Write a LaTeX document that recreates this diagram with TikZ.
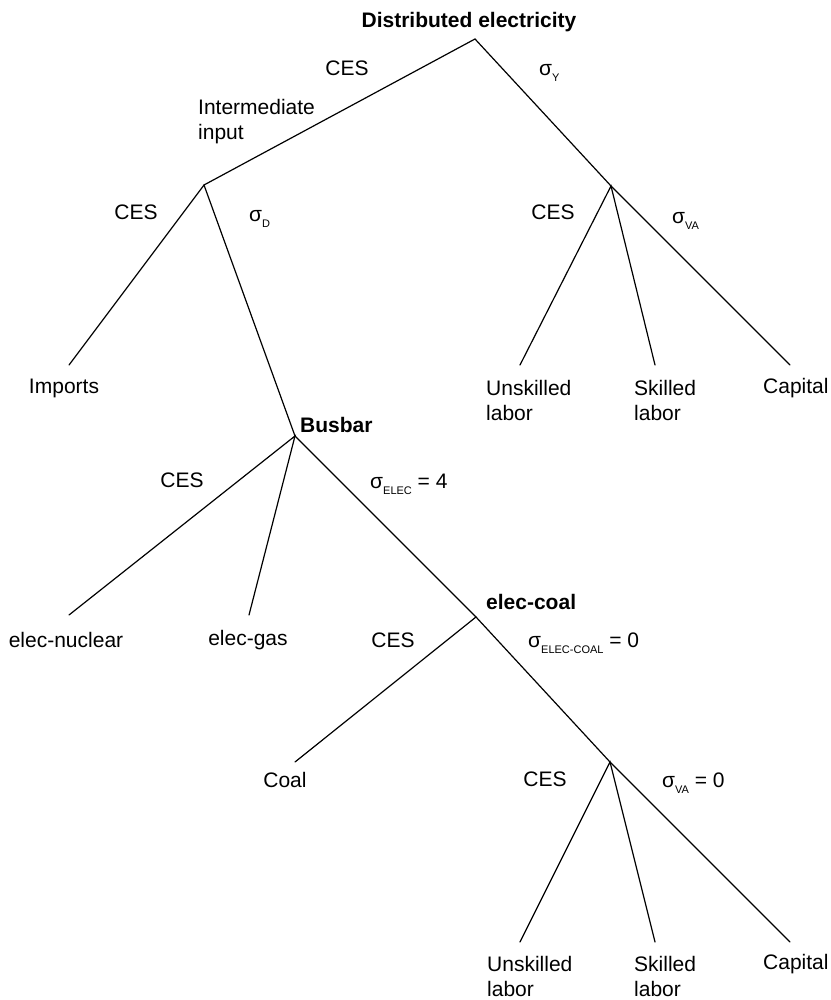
\documentclass[tikz,border=0pt]{standalone}
\usepackage{fontspec}
\setmainfont{Liberation Sans}
\usepackage{tikz}
\usetikzlibrary{positioning}

\newcommand{\sigsub}[1]{σ\raisebox{-6pt}{\fontsize{11}{11}\selectfont #1}}

\begin{document}
\begin{tikzpicture}[x=1pt,y=-1pt,
  branch/.style={line width=1.2pt,line cap=round},
  lbl/.style={inner sep=0pt,font=\fontsize{21}{25}\selectfont},
  headlbl/.style={inner sep=0pt,font=\fontsize{21}{25}\selectfont\bfseries},
  leaf/.style={lbl,align=left,anchor=west},
  siglbl/.style={lbl,anchor=base west}]
\useasboundingbox (0,0) rectangle (830,1000);
% junctions
\coordinate (top) at (475,39);
\coordinate (inter) at (204,185);
\coordinate (va) at (611,186);
\coordinate (busbar) at (295,436);
\coordinate (eleccoal) at (476,617);
\coordinate (vacoal) at (610,762);
% leaf ends
\coordinate (imp) at (69,365);
\coordinate (unsk) at (520,365);
\coordinate (sk) at (655,365);
\coordinate (cap) at (790,365);
\coordinate (nuc) at (69,615);
\coordinate (gas) at (249,615);
\coordinate (coalin) at (295,762);
\coordinate (unsk2) at (520,942);
\coordinate (sk2) at (655,942);
\coordinate (cap2) at (790,942);
% branches
\draw[branch] (inter) -- (top) -- (va);
\draw[branch] (imp) -- (inter) -- (busbar);
\draw[branch] (unsk) -- (va) -- (sk);
\draw[branch] (va) -- (cap);
\draw[branch] (nuc) -- (busbar) -- (gas);
\draw[branch] (busbar) -- (eleccoal);
\draw[branch] (coalin) -- (eleccoal) -- (vacoal);
\draw[branch] (unsk2) -- (vacoal) -- (sk2);
\draw[branch] (vacoal) -- (cap2);
% node names
\node[headlbl] (tdist) at (469,22) {Distributed electricity};
\node[lbl,align=left,anchor=north west] (tinter) at (198,99) {Intermediate\\input};
\node[headlbl,anchor=west] (tbus) at (300,425) {Busbar};
\node[headlbl,anchor=west] (tcoalnode) at (486,602) {elec-coal};
% leaves
\node[lbl] (timp) at (64,388) {Imports};
\node[leaf] (tunsk) at (486,400) {Unskilled\\labor};
\node[leaf] (tsk) at (634,400) {Skilled\\labor};
\node[leaf] (tcap) at (763,388) {Capital};
\node[lbl] (tnuc) at (66,640) {elec-nuclear};
\node[lbl] (tgas) at (248,640) {elec-gas};
\node[lbl] (tcoal) at (285,780) {Coal};
\node[leaf] (tunsk2) at (487,976) {Unskilled\\labor};
\node[leaf] (tsk2) at (634,976) {Skilled\\labor};
\node[leaf] (tcap2) at (763,964) {Capital};
% elasticities
\node[lbl] (ces1) at (347,68) {CES};
\node[siglbl] (sy) at (539,76) {\sigsub{Y}};
\node[lbl] (ces2) at (136,212) {CES};
\node[siglbl] (sd) at (249,222) {\sigsub{D}};
\node[lbl] (ces3) at (553,212) {CES};
\node[siglbl] (sva) at (672,223) {\sigsub{VA}};
\node[lbl] (ces4) at (182,480) {CES};
\node[siglbl] (selec) at (370,488) {\sigsub{ELEC} = 4};
\node[lbl] (ces5) at (393,640) {CES};
\node[siglbl] (secoal) at (528,647) {\sigsub{ELEC-COAL} = 0};
\node[lbl] (ces6) at (545,779) {CES};
\node[siglbl] (sva2) at (662,787) {\sigsub{VA} = 0};
\end{tikzpicture}
\end{document}
